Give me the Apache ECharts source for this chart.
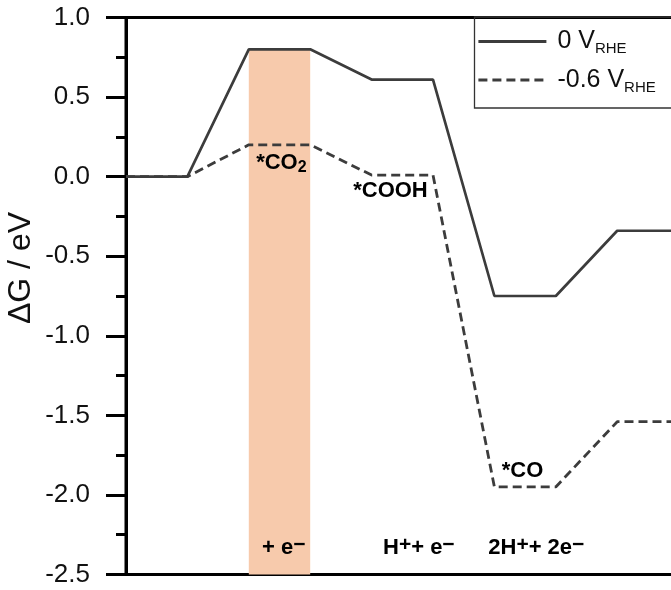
<!DOCTYPE html>
<html>
<head>
<meta charset="utf-8">
<script src="https://cdn.jsdelivr.net/npm/echarts@6/dist/echarts.min.js"></script>
<style>html,body{margin:0;padding:0;background:#fff;}#c{width:671px;height:590px;}</style>
</head>
<body>
<div id="c"></div>
<script>
// ---- data ----
const seriesNames = ['0 V', '-0.6 V'];
const levels0V = [0, 0.80, 0.61, -0.75, -0.34];      // solid
const levelsM06V = [0, 0.20, 0.01, -1.95, -1.54];    // dashed
const yTicks = [-2.5, -2.0, -1.5, -1.0, -0.5, 0.0, 0.5, 1.0];
const bandRange = [2, 3];          // highlighted *CO2 state (x units)
const bandTop = 0.80;
// annotations: [x, y, rich text]
const annotations = [
  [2.12, 0.088, '{b|*CO}{sub|2}'],
  [3.70, -0.091, '{b|*COOH}'],
  [6.12, -1.85, '{b|*CO}'],
  [2.215, -2.33, '{b|+ e}{sup|\u2212}'],
  [4.186, -2.33, '{b|H}{sup|+}{b|+ e}{sup|\u2212}'],
  [5.90, -2.33, '{b|2H}{sup|+}{b|+ 2e}{sup|\u2212}']
];

function steps(levels) {
  const out = [];
  levels.forEach((v, i) => { out.push([2 * i, v]); out.push([2 * i + 1, v]); });
  return out;
}

const FONT = 'Liberation Sans, Arial, sans-serif';
const LINE = '#3c3c3c';
const chart = echarts.init(document.getElementById('c'), null, {renderer: 'canvas'});
chart.setOption({
  backgroundColor: '#fff',
  animation: false,
  grid: {left: 126, top: 17.5, width: 552.6, height: 557, show: true, borderColor: '#000', borderWidth: 3, outerBoundsMode: 'none', containLabel: false},
  xAxis: {type: 'value', min: 0, max: 9, show: false},
  yAxis: {
    type: 'value', min: -2.5, max: 1.0, interval: 0.5,
    axisLine: {show: true, lineStyle: {color: '#000', width: 3}},
    axisTick: {show: true, length: 20, lineStyle: {color: '#000', width: 3}},
    minorTick: {show: true, splitNumber: 2, length: 10, lineStyle: {color: '#000', width: 3}},
    splitLine: {show: false},
    axisLabel: {margin: 36, fontSize: 26, color: '#111', fontFamily: FONT,
      formatter: v => { const t = yTicks.find(k => Math.abs(k - v) < 1e-6); return t === undefined ? '' : t.toFixed(1); }}
  },
  legend: {
    data: seriesNames, orient: 'vertical', left: 472, top: 24, itemWidth: 68, itemHeight: 14, itemGap: 11,
    itemStyle: {opacity: 0},
    lineStyle: {width: 2.8},
    formatter: n => '{a|' + n + '}{s|RHE}',
    textStyle: {fontFamily: FONT, color: '#111', rich: {
      a: {fontSize: 25, lineHeight: 30, fontFamily: FONT, color: '#111', verticalAlign: 'middle', padding: [0, 0, 0, 6]},
      s: {fontSize: 15, lineHeight: 7, fontFamily: FONT, color: '#111', verticalAlign: 'bottom'}
    }}
  },
  graphic: [
    {type: 'rect', shape: {x: 474.5, y: 17, width: 260, height: 91}, style: {fill: 'none', stroke: '#333', lineWidth: 1.3}, z: 100},
    {type: 'text', x: 21, y: 268, rotation: Math.PI / 2, style: {text: '\u0394G / eV', font: '32px ' + FONT, fill: '#111', align: 'center', verticalAlign: 'middle'}}
  ],
  series: [
    {name: seriesNames[0], type: 'line', data: steps(levels0V), symbol: 'none', z: 3,
      lineStyle: {color: LINE, width: 2.7, type: 'solid'}, itemStyle: {color: LINE},
      markArea: {silent: true, itemStyle: {color: '#f7caac'}, data: [[{xAxis: bandRange[0], yAxis: -2.5}, {xAxis: bandRange[1], yAxis: bandTop}]]}},
    {name: seriesNames[1], type: 'line', data: steps(levelsM06V), symbol: 'none', z: 3,
      lineStyle: {color: LINE, width: 2.8, type: [9, 5]}, itemStyle: {color: LINE}},
    {name: 'ann', type: 'scatter', symbolSize: 0, silent: true, z: 5, itemStyle: {opacity: 1},
      data: annotations.map(a => ({value: [a[0], a[1]], label: {formatter: a[2]}})),
      label: {show: true, position: 'right', distance: 0, color: '#000', fontFamily: FONT,
        rich: {
          b: {fontSize: 22, fontWeight: 'bold', lineHeight: 26, fontFamily: FONT, color: '#000', verticalAlign: 'middle'},
          sub: {fontSize: 16, fontWeight: 'bold', lineHeight: 20, fontFamily: FONT, color: '#000', verticalAlign: 'bottom'},
          sup: {fontSize: 21, fontWeight: 'bold', lineHeight: 10, fontFamily: FONT, color: '#000', verticalAlign: 'top'}
        }}}
  ]
});
</script>
</body>
</html>
